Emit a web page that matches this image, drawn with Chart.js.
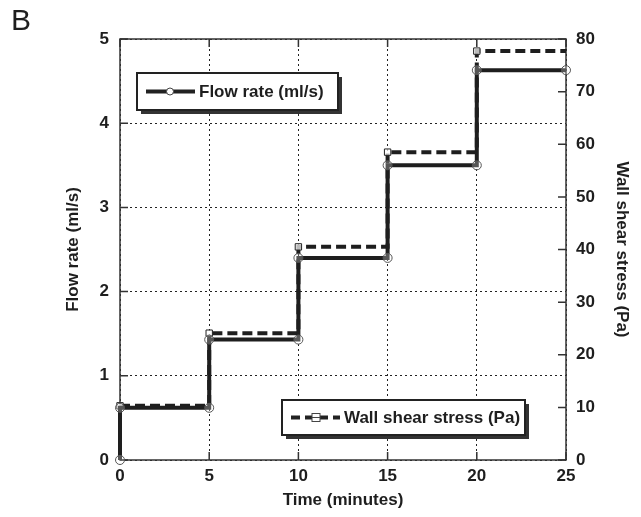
<!DOCTYPE html>
<html>
<head>
<meta charset="utf-8">
<script src="https://cdn.jsdelivr.net/npm/chart.js@4/dist/chart.umd.min.js"></script>
<style>
  html, body { margin: 0; padding: 0; background: #fff; }
  #wrap { position: relative; width: 641px; height: 517px; }
</style>
</head>
<body>
<div id="wrap"><canvas id="grafico" width="641" height="517"></canvas></div>
<script>
// datos
var tiempos = [0, 5, 10, 15, 20, 25];          // minutos, inicio de cada escalon
var caudal = [0.62, 1.43, 2.40, 3.50, 4.63];     // ml/s en cada escalon
var tension = [10.3, 24.1, 40.5, 58.5, 77.7];    // Pa en cada escalon
var ticksTiempo = [0, 5, 10, 15, 20, 25];

var FUENTE = 'Liberation Sans, Arial, Helvetica, sans-serif';
var negro = '#1e1e1e';

// puntos en escalera para el caudal (circulos en cada vertice)
var puntosCaudal = [{ x: tiempos[0], y: 0 }];
for (var i = 0; i < caudal.length; i++) {
  puntosCaudal.push({ x: tiempos[i], y: caudal[i] });
  puntosCaudal.push({ x: tiempos[i + 1], y: caudal[i] });
}

// puntos en escalera para la tension (cuadrado al inicio de cada escalon)
var puntosTension = [];
var radiosTension = [];
for (var j = 0; j < tension.length; j++) {
  puntosTension.push({ x: tiempos[j], y: tension[j] });
  radiosTension.push(4.5);
  puntosTension.push({ x: tiempos[j + 1], y: tension[j] });
  radiosTension.push(0);
}

// marco, marcas hacia adentro, leyendas y la letra B
var extras = {
  id: 'extras',
  beforeDatasetsDraw: function (chart) {
    var ctx = chart.ctx;
    var a = chart.chartArea;
    var sx = chart.scales.x, sy = chart.scales.y, sy2 = chart.scales.y2;
    ctx.save();
    ctx.strokeStyle = '#333';
    ctx.lineWidth = 1.5;
    ctx.strokeRect(a.left, a.top, a.right - a.left, a.bottom - a.top);
    ctx.beginPath();
    sx.ticks.forEach(function (t) {
      var px = sx.getPixelForValue(t.value);
      ctx.moveTo(px, a.bottom); ctx.lineTo(px, a.bottom - 8);
      ctx.moveTo(px, a.top); ctx.lineTo(px, a.top + 8);
    });
    sy.ticks.forEach(function (t) {
      var py = sy.getPixelForValue(t.value);
      ctx.moveTo(a.left, py); ctx.lineTo(a.left + 8, py);
    });
    sy2.ticks.forEach(function (t) {
      var py = sy2.getPixelForValue(t.value);
      ctx.moveTo(a.right, py); ctx.lineTo(a.right - 8, py);
    });
    ctx.stroke();
    ctx.restore();
  },
  afterDraw: function (chart) {
    var ctx = chart.ctx;
    ctx.save();
    // letra del panel
    ctx.fillStyle = negro;
    ctx.font = '30px ' + FUENTE;
    ctx.textBaseline = 'top';
    ctx.textAlign = 'left';
    ctx.fillText('B', 11, 7);

    dibujarLeyenda(ctx, 137, 73, 201, 37, 'Flow rate (ml/s)', false);
    dibujarLeyenda(ctx, 282, 400, 243, 35, 'Wall shear stress (Pa)', true);
    ctx.restore();
  }
};

function dibujarLeyenda(ctx, x, y, w, h, texto, punteada) {
  ctx.fillStyle = '#333';
  ctx.fillRect(x + 4, y + 4, w, h);
  ctx.fillStyle = '#fff';
  ctx.fillRect(x, y, w, h);
  ctx.strokeStyle = '#222';
  ctx.lineWidth = 2;
  ctx.strokeRect(x, y, w, h);
  var cy = y + h / 2;
  ctx.lineWidth = 4;
  ctx.setLineDash(punteada ? [9, 5] : []);
  ctx.beginPath();
  ctx.moveTo(x + 9, cy);
  ctx.lineTo(x + 58, cy);
  ctx.stroke();
  ctx.setLineDash([]);
  ctx.lineWidth = 1;
  ctx.strokeStyle = '#444';
  if (punteada) {
    ctx.fillStyle = '#fff';
    ctx.fillRect(x + 30, cy - 4, 8, 8);
    ctx.strokeRect(x + 30, cy - 4, 8, 8);
    ctx.beginPath(); ctx.moveTo(x + 30, cy); ctx.lineTo(x + 38, cy); ctx.stroke();
  } else {
    ctx.fillStyle = '#fff';
    ctx.beginPath();
    ctx.arc(x + 33, cy, 3.5, 0, Math.PI * 2);
    ctx.fill();
    ctx.stroke();
  }
  ctx.fillStyle = negro;
  ctx.font = 'bold 17px ' + FUENTE;
  ctx.textAlign = 'left';
  ctx.textBaseline = 'middle';
  ctx.fillText(texto, x + 62, cy + 1);
}

var fuenteTicks = { family: FUENTE, size: 17, weight: 'bold' };
var gridPunteado = { color: '#222', lineWidth: 1, drawTicks: false };

var ctx = document.getElementById('grafico').getContext('2d');
var myChart = new Chart(ctx, {
  type: 'line',
  data: {
    datasets: [{
      label: 'Flow rate (ml/s)',
      data: puntosCaudal,
      yAxisID: 'y',
      borderColor: negro,
      borderWidth: 4,
      pointStyle: 'circle',
      pointRadius: 4.5,
      pointBorderWidth: 1,
      pointBorderColor: '#555',
      pointBackgroundColor: 'rgba(255,255,255,0.25)',
      tension: 0,
      clip: false,
      order: 1
    }, {
      label: 'Wall shear stress (Pa)',
      data: puntosTension,
      yAxisID: 'y2',
      borderColor: negro,
      borderWidth: 4,
      borderDash: [10, 5],
      pointStyle: 'rect',
      pointRadius: radiosTension,
      pointBorderWidth: 1,
      pointBorderColor: '#222',
      pointBackgroundColor: 'rgba(255,255,255,0.7)',
      tension: 0,
      clip: false,
      order: 2
    }]
  },
  options: {
    responsive: false,
    animation: false,
    layout: { padding: { top: 39, left: 0, right: 0, bottom: 0 } },
    plugins: {
      legend: { display: false },
      tooltip: { enabled: false }
    },
    scales: {
      x: {
        type: 'linear',
        min: 0,
        max: 25,
        afterBuildTicks: function (s) { s.ticks = ticksTiempo.map(function (v) { return { value: v }; }); },
        afterFit: function (s) { s.height = 57; },
        ticks: { font: fuenteTicks, color: negro, padding: 6, maxRotation: 0 },
        grid: gridPunteado,
        border: { display: false, dash: [2, 3] },
        title: { display: true, text: 'Time (minutes)', font: fuenteTicks, color: negro, padding: { top: 0, bottom: 6 } }
      },
      y: {
        position: 'left',
        min: 0,
        max: 5,
        ticks: { stepSize: 1, font: fuenteTicks, color: negro, padding: 11 },
        afterFit: function (s) { s.width = 120; },
        grid: gridPunteado,
        border: { display: false, dash: [2, 3] },
        title: { display: true, text: 'Flow rate (ml/s)', font: fuenteTicks, color: negro, padding: { top: 63, bottom: 0 } }
      },
      y2: {
        position: 'right',
        min: 0,
        max: 80,
        ticks: { stepSize: 10, font: fuenteTicks, color: negro, padding: 10 },
        afterFit: function (s) { s.width = 75; },
        grid: { drawOnChartArea: false, drawTicks: false },
        border: { display: false },
        title: { display: true, text: 'Wall shear stress (Pa)', font: fuenteTicks, color: negro, padding: { top: 9, bottom: 0 } }
      }
    }
  },
  plugins: [extras]
});
</script>
</body>
</html>
